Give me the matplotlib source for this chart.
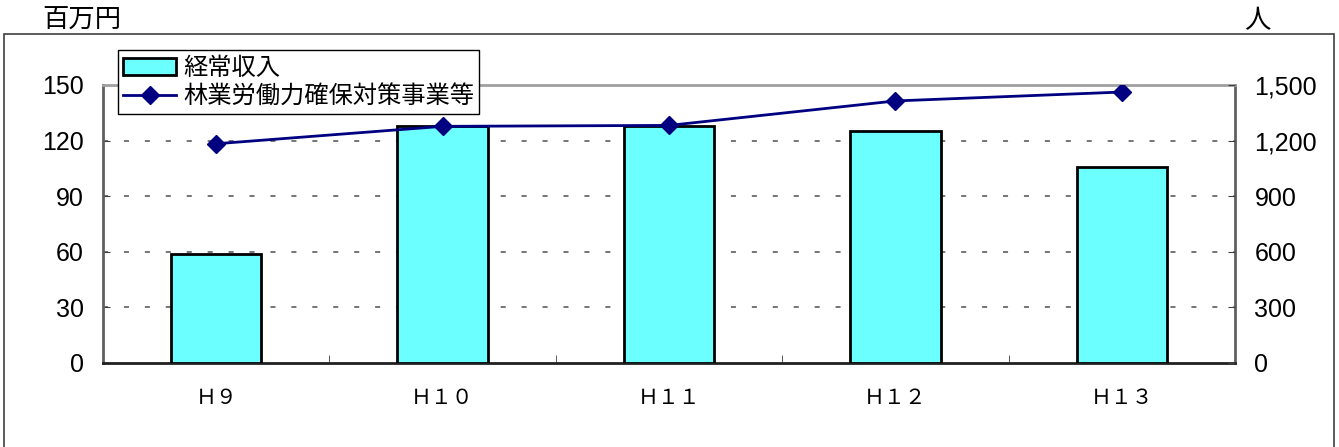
import matplotlib
matplotlib.use('Agg')
import matplotlib.pyplot as plt
from matplotlib.patches import Rectangle
import numpy as np

plt.rcParams['font.family'] = ['Liberation Sans', 'Noto Sans CJK JP']

# data
years = ['Ｈ９', 'Ｈ１０', 'Ｈ１１', 'Ｈ１２', 'Ｈ１３']
income = [59, 128, 128, 125, 106]          # 経常収入 (百万円)
workers = [1183, 1277, 1282, 1414, 1462]   # 林業労働力確保対策事業等 (人)

W, H = 1339, 447
fig = plt.figure(figsize=(W / 100, H / 100), dpi=100)

# outer frame of the chart
fig.patches.append(Rectangle((4 / W, -0.05), 1330 / W, 1.05 - 34 / H,
                             transform=fig.transFigure, fill=False,
                             edgecolor='#404040', linewidth=1.2))

ax = fig.add_axes([103 / W, 1 - 363 / H, (1235 - 103) / W, (363 - 85) / H])
x = np.arange(len(years))

bars = ax.bar(x, income, width=0.4, color='#6bffff', edgecolor='black',
              linewidth=2, zorder=3, label='経常収入')
ax.set_xlim(-0.5, len(years) - 0.5)
ax.set_ylim(0, 150)
ax.set_yticks([0, 30, 60, 90, 120, 150])
ax.set_xticks(x)
ax.set_xticklabels(years, family=['Noto Sans CJK JP'], fontsize=15)
ax.set_xticks(np.arange(len(years) + 1) - 0.5, minor=True)
ax.tick_params(axis='x', which='major', length=0, pad=17)
ax.tick_params(axis='x', which='minor', direction='in', length=6, color='#404040')
ax.tick_params(axis='y', direction='in', length=5, labelsize=18, pad=14, color='#404040')

for y in [30, 60, 90, 120]:
    ax.axhline(y, color='#505050', linewidth=1.1, linestyle=(0, (3.3, 10.4)), zorder=1)

ax.spines['top'].set_color('#a0a0a0')
ax.spines['left'].set_color('#606060')
ax.spines['bottom'].set_color('#202020')
ax.spines['right'].set_color('#606060')
for s in ax.spines.values():
    s.set_linewidth(2)

ax2 = ax.twinx()
line, = ax2.plot(x, workers, color='#000080', linewidth=2, marker='D',
                 markersize=9, zorder=4, label='林業労働力確保対策事業等')
ax2.set_ylim(0, 1500)
ax2.set_yticks([0, 300, 600, 900, 1200, 1500])
ax2.set_yticklabels(['0', '300', '600', '900', '1,200', '1,500'])
ax2.tick_params(axis='y', direction='in', length=5, labelsize=18, pad=14, color='#404040')
for s in ax2.spines.values():
    s.set_visible(False)

fig.text(42 / W, 1 - 34 / H, '百万円', family=['Noto Sans CJK JP'], fontsize=19,
         ha='left', va='bottom')
fig.text(1257 / W, 1 - 34 / H, '人', family=['Noto Sans CJK JP'], fontsize=19,
         ha='center', va='bottom')

leg = ax2.legend([bars, line], ['経常収入', '林業労働力確保対策事業等'],
                 loc='upper left', bbox_to_anchor=(118 / W, 1 - 50 / H),
                 bbox_transform=fig.transFigure, prop={'family': 'Noto Sans CJK JP', 'size': 17.5},
                 frameon=True, fancybox=False, edgecolor='black', framealpha=1,
                 borderpad=0.2, labelspacing=0.1, handlelength=2.2, handletextpad=0.3,
                 borderaxespad=0)
leg.get_frame().set_linewidth(1)
leg.set_zorder(10)

fig.savefig('out.png', dpi=100)
